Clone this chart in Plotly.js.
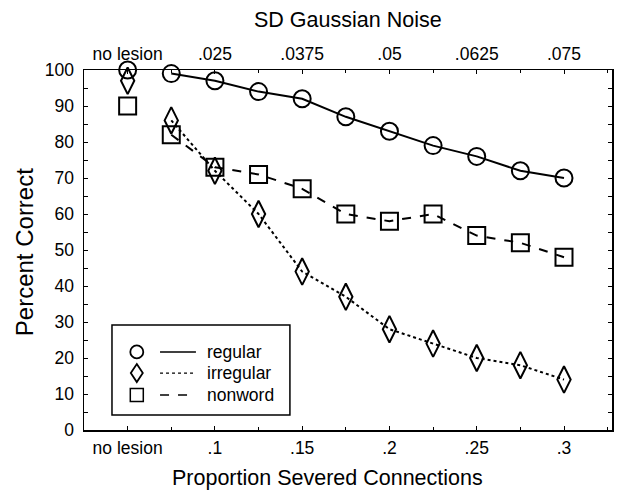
<!DOCTYPE html>
<html>
<head>
<meta charset="utf-8">
<script src="https://cdn.plot.ly/plotly-3.0.1.min.js"></script>
<style>html,body{margin:0;padding:0;background:#fff;}#chart{width:620px;height:497px;}</style>
</head>
<body>
<div id="chart"></div>
<script>
// ---- data ----
const proportion = [0.075, 0.1, 0.125, 0.15, 0.175, 0.2, 0.225, 0.25, 0.275, 0.3];
const noLesionPos = 0.05; // axis position of the "no lesion" category
const seriesNames = ["regular", "irregular", "nonword"];
const regular   = [99, 97, 94, 92, 87, 83, 79, 76, 72, 70];
const irregular = [86, 72, 60, 44, 37, 28, 24, 20, 18, 14];
const nonword   = [82, 73, 71, 67, 60, 58, 60, 54, 52, 48];
const noLesion  = [100, 97, 90]; // regular, irregular, nonword
const bottomTickVals = [0.05, 0.1, 0.15, 0.2, 0.25, 0.3];
const bottomTickText = ["no lesion", ".1", ".15", ".2", ".25", ".3"];
const topTickText = ["no lesion", ".025", ".0375", ".05", ".0625", ".075"];
const minorTickVals = [0.075, 0.125, 0.175, 0.225, 0.275, 0.325];
const xTitle = "Proportion Severed Connections";
const x2Title = "SD Gaussian Noise";
const yTitle = "Percent Correct";

// ---- styles ----
const FONT = "Liberation Sans, Arial, Helvetica, sans-serif";
const TICK = 17.5;
const styles = [
  {symbol: "circle-open", size: 17, dash: "solid"},
  {symbol: "diamond-tall-open", size: 19, dash: "dot"},
  {symbol: "square-open", size: 17, dash: "dash"}
];
const series = [regular, irregular, nonword];

const traces = [];
series.forEach((ys, i) => {
  traces.push({
    x: proportion, y: ys, type: "scatter", mode: "lines+markers",
    name: seriesNames[i], showlegend: false,
    line: {color: "#000", width: 2, dash: styles[i].dash},
    marker: {symbol: styles[i].symbol, size: styles[i].size, color: "#000", line: {width: 2, color: "#000"}},
    cliponaxis: false
  });
  traces.push({
    x: [noLesionPos], y: [noLesion[i]], type: "scatter", mode: "markers",
    showlegend: false,
    marker: {symbol: styles[i].symbol, size: styles[i].size, color: "#000", line: {width: 2, color: "#000"}},
    cliponaxis: false
  });
});
// dummy trace for top axis
traces.push({x: [noLesionPos], y: [null], xaxis: "x2", type: "scatter", mode: "markers", showlegend: false, hoverinfo: "skip"});

// ---- custom legend (paper coords) ----
const shapes = [
  {type: "rect", xref: "paper", yref: "paper", x0: 0.053, x1: 0.39, y0: 0.042, y1: 0.292, line: {color: "#000", width: 1.5}, fillcolor: "#fff", layer: "above"}
];
const annotations = [];
const rowsY = [0.217, 0.158, 0.097];
const sx = 0.100, dxp = 1/528, dyp = 1/360;
rowsY.forEach((yy, i) => {
  const r = 6.5;
  if (i === 0) {
    shapes.push({type: "circle", xref: "paper", yref: "paper", x0: sx - r*dxp, x1: sx + r*dxp, y0: yy - r*dyp, y1: yy + r*dyp, line: {color: "#000", width: 1.8}});
  } else if (i === 1) {
    const w = 6*dxp, h = 9*dyp;
    shapes.push({type: "path", xref: "paper", yref: "paper",
      path: `M ${sx} ${yy + h} L ${sx + w} ${yy} L ${sx} ${yy - h} L ${sx - w} ${yy} Z`, line: {color: "#000", width: 1.8}});
  } else {
    shapes.push({type: "rect", xref: "paper", yref: "paper", x0: sx - r*dxp, x1: sx + r*dxp, y0: yy - r*dyp, y1: yy + r*dyp, line: {color: "#000", width: 1.5}});
  }
  shapes.push({type: "line", xref: "paper", yref: "paper", x0: 0.144, x1: 0.212, y0: yy, y1: yy,
    line: {color: "#000", width: i === 1 ? 1.2 : 1.5, dash: ["solid", "dot", "dash"][i]}});
  annotations.push({xref: "paper", yref: "paper", x: 0.229, y: yy, xanchor: "left", yanchor: "middle",
    text: seriesNames[i], showarrow: false, font: {family: FONT, size: 17.5, color: "#000"}});
});
// axis titles as annotations (positioned like the reference)
annotations.push({xref: "paper", yref: "paper", x: 0.462, y: -0.133, xanchor: "center", yanchor: "middle",
  text: xTitle, showarrow: false, font: {family: FONT, size: 21.5, color: "#000"}});
annotations.push({xref: "paper", yref: "paper", x: 0.5, y: 1.139, xanchor: "center", yanchor: "middle",
  text: x2Title, showarrow: false, font: {family: FONT, size: 21.5, color: "#000"}});
annotations.push({xref: "paper", yref: "paper", x: -0.1136, y: 0.494, xanchor: "center", yanchor: "middle", textangle: -90,
  text: yTitle, showarrow: false, font: {family: FONT, size: 24, color: "#000"}});

const layout = {
  width: 620, height: 497,
  margin: {l: 84, r: 8, t: 70, b: 67},
  paper_bgcolor: "#fff", plot_bgcolor: "#fff",
  font: {family: FONT, size: 16, color: "#000"},
  showlegend: false,
  xaxis: {
    range: [0.025, 0.3275], showgrid: false, zeroline: false,
    showline: true, linecolor: "#000", linewidth: 1.5,
    tickmode: "array", tickvals: bottomTickVals, ticktext: bottomTickText,
    ticks: "inside", ticklen: 4, tickcolor: "#000", tickwidth: 1,
    minor: {tickmode: "array", tickvals: minorTickVals, ticks: "inside", ticklen: 3, tickcolor: "#000"},
    tickfont: {family: FONT, size: TICK, color: "#000"}, ticklabelstandoff: 1
  },
  xaxis2: {
    overlaying: "x", side: "top", anchor: "y", matches: "x",
    range: [0.025, 0.3275], showgrid: false, zeroline: false,
    showline: true, linecolor: "#000", linewidth: 1.5,
    tickmode: "array", tickvals: bottomTickVals, ticktext: topTickText,
    ticks: "inside", ticklen: 4, tickcolor: "#000", tickwidth: 1,
    minor: {tickmode: "array", tickvals: minorTickVals, ticks: "inside", ticklen: 3, tickcolor: "#000"},
    tickfont: {family: FONT, size: TICK, color: "#000"}, ticklabelstandoff: 2
  },
  yaxis: {
    range: [0, 100], showgrid: false, zeroline: false,
    showline: true, linecolor: "#000", linewidth: 1.5, mirror: "allticks",
    tickmode: "linear", tick0: 0, dtick: 10,
    ticks: "inside", ticklen: 4, tickcolor: "#000", tickwidth: 1,
    minor: {dtick: 5, ticks: "inside", ticklen: 3, tickcolor: "#000"},
    tickfont: {family: FONT, size: TICK, color: "#000"},
    ticklabelstandoff: 5
  },
  shapes: shapes,
  annotations: annotations
};

Plotly.newPlot("chart", traces, layout, {displayModeBar: false, staticPlot: true});
</script>
</body>
</html>
